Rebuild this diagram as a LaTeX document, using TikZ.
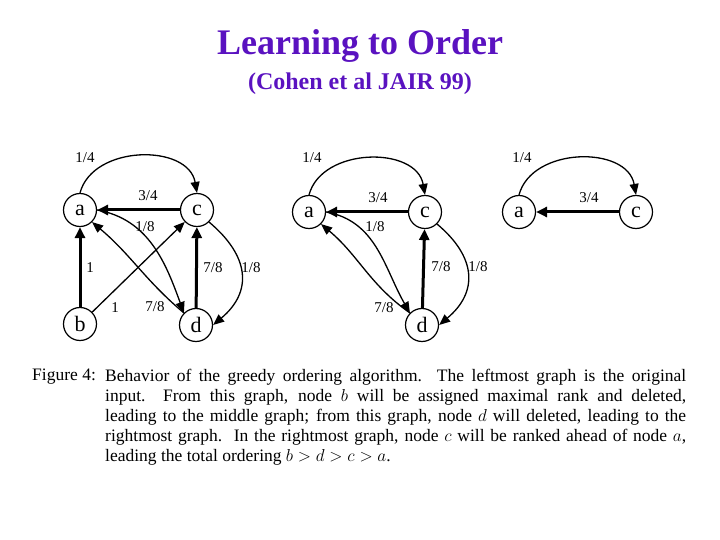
\documentclass[tikz,border=0pt]{standalone}
\usepackage{fontspec}
\setmainfont{Liberation Serif}
\usetikzlibrary{arrows.meta}
\definecolor{ttl}{HTML}{5A12C0}
\begin{document}
\begin{tikzpicture}[x=1pt,y=-1pt,
  nd/.style={circle,draw,line width=1.2pt,minimum size=33pt,inner sep=0pt,font=\fontsize{22}{22}\selectfont},
  thn/.style={line width=1.3pt,-{Triangle[length=11pt,width=9pt]}},
  thk/.style={line width=3pt,-{Triangle[length=11pt,width=10pt]}},
  lb/.style={font=\fontsize{15}{15}\selectfont,inner sep=0pt}]
\useasboundingbox (0,0) rectangle (720,540);
\node[font=\fontsize{36}{36}\selectfont\bfseries,text=ttl] (t) at (360,46) {Learning to Order};
\node[font=\fontsize{24}{24}\selectfont\bfseries,text=ttl] (st) at (360,84) {(Cohen et al JAIR 99)};
% left
\node[nd] (a1) at (80,210) {a};
\node[nd] (c1) at (197,210) {c};
\node[nd] (b1) at (80,324) {b};
\node[nd] (d1) at (196,325) {d};
\draw[thn] (a1.north) to[out=75,in=100,looseness=1.1] (c1.north);
\draw[thk] (c1) -- (a1);
\draw[thn] (a1.east) to[out=-10,in=110] (d1.north west);
\draw[thn] (d1.north west) to[out=140,in=-40] (a1.south east);
\draw[thk] (b1) -- (a1);
\draw[thn] (b1) -- (c1);
\draw[thk] (d1) -- (c1);
\draw[thn] (c1.south east) to[out=-40,in=40,looseness=1.3] (d1.east);
\node[lb] (l1) at (85,158) {1/4};
\node[lb] (l2) at (148,196) {3/4};
\node[lb] (l3) at (145,227) {1/8};
\node[lb] (l4) at (90,268) {1};
\node[lb] (l5) at (115,308) {1};
\node[lb] (l6) at (155,307) {7/8};
\node[lb] (l7) at (213,268) {7/8};
\node[lb] (l8) at (251,268) {1/8};
% middle
\node[nd] (a2) at (309,212) {a};
\node[nd] (c2) at (425,212) {c};
\node[nd] (d2) at (422,325) {d};
\draw[thn] (a2.north) to[out=75,in=100,looseness=1.1] (c2.north);
\draw[thk] (c2) -- (a2);
\draw[thn] (a2.east) to[out=-10,in=120] (d2.north west);
\draw[thn] (d2.north west) to[out=145,in=-40] (a2.south east);
\draw[thk] (d2) -- (c2);
\draw[thn] (c2.south east) to[out=-40,in=40,looseness=1.3] (d2.east);
\node[lb] (m1) at (312,158) {1/4};
\node[lb] (m2) at (378,198) {3/4};
\node[lb] (m3) at (375,227) {1/8};
\node[lb] (m6) at (384,308) {7/8};
\node[lb] (m7) at (441,267) {7/8};
\node[lb] (m8) at (478,267) {1/8};
% right
\node[nd] (a3) at (519,212) {a};
\node[nd] (c3) at (636,212) {c};
\draw[thn] (a3.north) to[out=75,in=100,looseness=1.1] (c3.north);
\draw[thk] (c3) -- (a3);
\node[lb] (r1) at (522,158) {1/4};
\node[lb] (r2) at (589,198) {3/4};
% caption
\node[anchor=north west,inner sep=0pt,font=\fontsize{17.5}{20}\selectfont] (fig) at (32,369) {Figure 4:};
\node[anchor=north west,inner sep=0pt,text width=581pt,align=justify,font=\fontsize{17.5}{20}\selectfont] (cap) at (105,369) {Behavior of the greedy ordering algorithm.\ \ The leftmost graph is the original\linebreak input.\ \ From this graph, node $b$ will be assigned maximal rank and deleted,\linebreak leading to the middle graph; from this graph, node $d$ will deleted, leading to the\linebreak rightmost graph.\ \ In the rightmost graph, node $c$ will be ranked ahead of node $a$,\linebreak leading the total ordering $b>d>c>a$.};
\end{tikzpicture}
\end{document}
